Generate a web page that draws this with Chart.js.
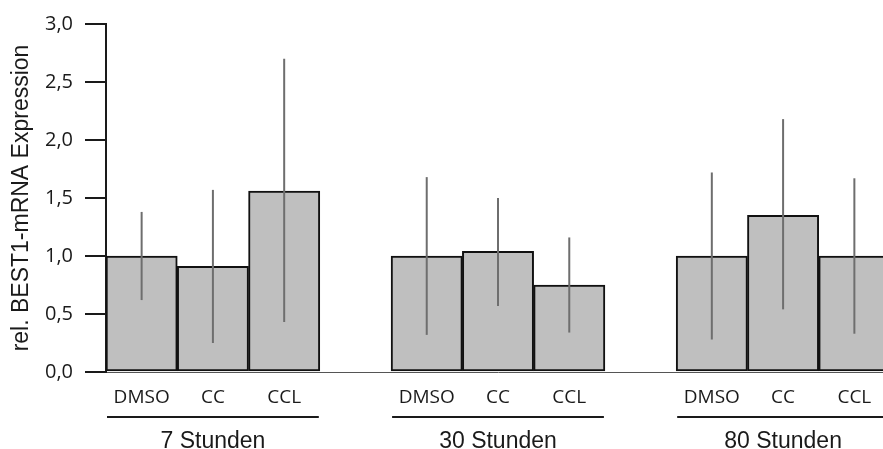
<!DOCTYPE html>
<html>
<head>
<meta charset="utf-8">
<script src="https://cdn.jsdelivr.net/npm/chart.js@4"></script>
<style>
  html, body { margin: 0; padding: 0; background: #fff; overflow: hidden; }
  #wrap { position: relative; width: 895px; height: 449px; }
</style>
</head>
<body>
<div id="wrap"><canvas id="chart" width="895" height="449"></canvas></div>
<script>
// data
const categories = ["DMSO", "CC", "CCL", "", "DMSO", "CC", "CCL", "", "DMSO", "CC", "CCL"];
const expression = [1.0, 0.91, 1.56, null, 1.0, 1.04, 0.75, null, 1.0, 1.35, 1.0];
const errLow = [0.62, 0.25, 0.43, null, 0.32, 0.57, 0.34, null, 0.28, 0.54, 0.33];
const errHigh = [1.38, 1.57, 2.7, null, 1.68, 1.5, 1.16, null, 1.72, 2.18, 1.67];
const groups = [
  { label: "7 Stunden", from: 0, to: 2 },
  { label: "30 Stunden", from: 4, to: 6 },
  { label: "80 Stunden", from: 8, to: 10 },
];
const yTicks = [0, 0.5, 1, 1.5, 2, 2.5, 3];

const errorBars = {
  id: "errorBars",
  afterDatasetsDraw(chart) {
    const { ctx, scales } = chart;
    const meta = chart.getDatasetMeta(0);
    ctx.save();
    ctx.strokeStyle = "#6e6e6e";
    ctx.lineWidth = 2;
    meta.data.forEach((bar, i) => {
      if (errLow[i] == null) return;
      ctx.beginPath();
      ctx.moveTo(bar.x, scales.y.getPixelForValue(errLow[i]));
      ctx.lineTo(bar.x, scales.y.getPixelForValue(errHigh[i]));
      ctx.stroke();
    });
    ctx.restore();
  },
};

const groupLabels = {
  id: "groupLabels",
  afterDraw(chart) {
    const { ctx } = chart;
    const meta = chart.getDatasetMeta(0);
    ctx.save();
    groups.forEach((g) => {
      const a = meta.data[g.from];
      const b = meta.data[g.to];
      const x0 = a.x - a.width / 2 + 1;
      const x1 = b.x + b.width / 2 - 1;
      ctx.strokeStyle = "#1a1a1a";
      ctx.lineWidth = 2;
      ctx.beginPath();
      ctx.moveTo(x0, 417);
      ctx.lineTo(x1, 417);
      ctx.stroke();
      ctx.fillStyle = "#1a1a1a";
      ctx.font = "23px 'Liberation Sans', Arial, sans-serif";
      ctx.textAlign = "center";
      ctx.textBaseline = "alphabetic";
      ctx.fillText(g.label, (x0 + x1) / 2, 448);
    });
    ctx.restore();
  },
};

new Chart(document.getElementById("chart"), {
  type: "bar",
  data: {
    labels: categories,
    datasets: [
      {
        data: expression,
        backgroundColor: "#bfbfbf",
        borderColor: "#111",
        borderWidth: 2,
        borderSkipped: false,
        categoryPercentage: 1,
        barPercentage: 1,
      },
    ],
  },
  options: {
    responsive: false,
    animation: false,
    layout: { padding: { top: 23, right: 5, left: 0, bottom: 0 } },
    plugins: {
      legend: { display: false },
      tooltip: { enabled: false },
    },
    scales: {
      x: {
        grid: { display: false, drawTicks: false },
        border: { display: true, color: "#555", width: 1 },
        ticks: {
          color: "#1a1a1a",
          padding: 14,
          maxRotation: 0,
          autoSkip: false,
          font: { family: "'Open Sans', sans-serif", size: 19 },
        },
        afterFit(scale) { scale.height = 77; },
      },
      y: {
        min: 0,
        max: 3,
        afterBuildTicks(scale) { scale.ticks = yTicks.map((v) => ({ value: v })); },
        grid: {
          drawOnChartArea: false,
          drawTicks: true,
          tickLength: 21,
          tickColor: "#1a1a1a",
          lineWidth: 2,
        },
        border: { display: true, color: "#1a1a1a", width: 2 },
        ticks: {
          color: "#1a1a1a",
          padding: 12,
          font: { family: "'Open Sans', sans-serif", size: 20 },
          callback: (v) => Number(v).toFixed(1).replace(".", ","),
        },
        title: {
          display: true,
          text: "rel. BEST1-mRNA Expression",
          color: "#1a1a1a",
          font: { family: "'Liberation Sans', Arial, sans-serif", size: 23 },
          padding: { top: 8, bottom: 0 },
        },
        afterFit(scale) { scale.width = 106; },
      },
    },
  },
  plugins: [errorBars, groupLabels],
});
</script>
</body>
</html>
